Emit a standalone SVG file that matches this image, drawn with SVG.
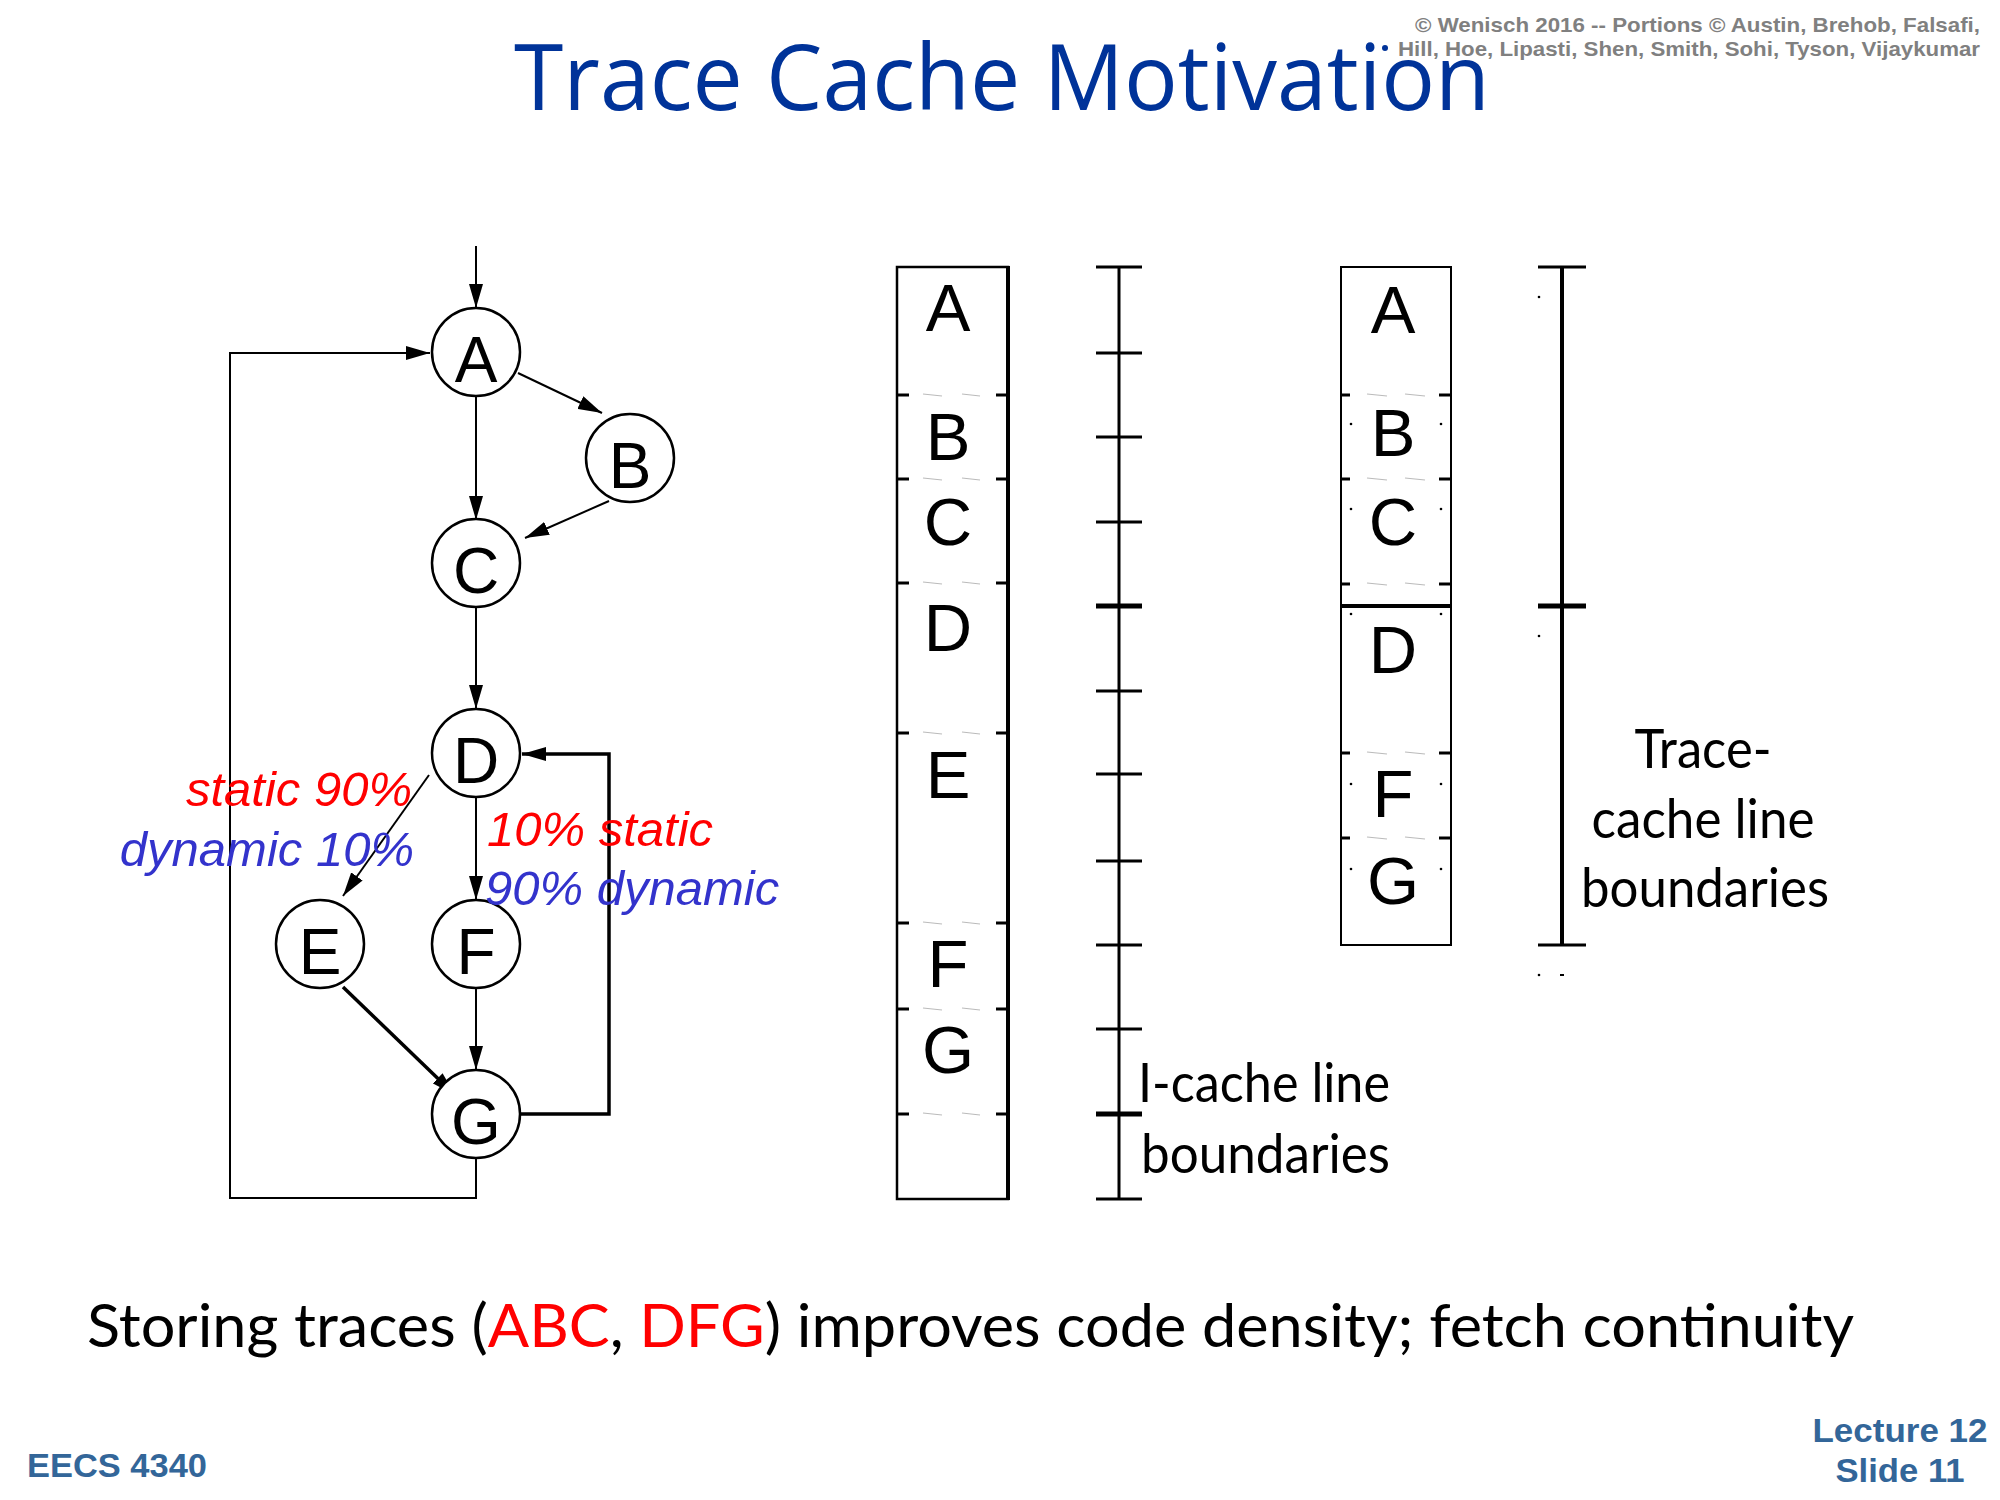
<svg xmlns="http://www.w3.org/2000/svg" width="2000" height="1500" viewBox="0 0 2000 1500">
<defs>
<marker id="ah" viewBox="0 0 24 14" refX="24" refY="7" markerWidth="24" markerHeight="14" markerUnits="userSpaceOnUse" orient="auto"><path d="M0,0 L24,7 L0,14 z" fill="#000"/></marker>
<style>
.node circle{fill:#fff;stroke:#000;stroke-width:2.5}
.nl{font-family:"Liberation Sans",Arial,sans-serif;font-size:64px;text-anchor:middle;fill:#000}
.edge{fill:none;stroke:#000;stroke-width:2;marker-end:url(#ah)}
.thick{stroke-width:3.5}
.cl{font-family:"Liberation Sans",Arial,sans-serif;font-size:67px;text-anchor:middle;fill:#000}
.lbl{font-family:"Liberation Sans",Arial,sans-serif;font-size:49px;font-style:italic}
.red{fill:#ff0000}
.blue{fill:#3333cc}
.cal{font-family:Lato,"Open Sans",sans-serif;font-size:54px;fill:#000}
.stub{stroke:#000;stroke-width:3}
.faint{stroke:#bbb;stroke-width:1.2}
.dot{fill:#000}
.foot{font-family:"Liberation Sans",Arial,sans-serif;font-weight:bold;fill:#336699}
</style>
</defs>
<rect width="2000" height="1500" fill="#fff"/>

<!-- title & header -->
<text x="514" y="110" font-family="'Open Sans',Lato,sans-serif" font-size="92" fill="#003399" textLength="976" lengthAdjust="spacingAndGlyphs">Trace Cache Motivation</text>
<g font-family="'Liberation Sans Narrow','Liberation Sans',Arial,sans-serif" font-weight="bold" font-size="21" fill="#808080">
<text x="1415" y="32" textLength="565" lengthAdjust="spacingAndGlyphs">© Wenisch 2016 -- Portions © Austin, Brehob, Falsafi,</text>
<text x="1398" y="56" textLength="582" lengthAdjust="spacingAndGlyphs">Hill, Hoe, Lipasti, Shen, Smith, Sohi, Tyson, Vijaykumar</text>
</g>
<circle cx="1385" cy="48" r="3" fill="#003399"/>

<!-- connectors -->
<g id="connectors">
<line class="edge" x1="476" y1="246" x2="476" y2="308"/>
<line class="edge" x1="518" y1="373" x2="602" y2="413"/>
<line class="edge" x1="609" y1="501" x2="525" y2="538"/>
<line class="edge" x1="476" y1="396" x2="476" y2="520"/>
<line class="edge" x1="476" y1="607" x2="476" y2="709"/>
<line class="edge" x1="429" y1="775" x2="343" y2="896"/>
<line class="edge" x1="476" y1="798" x2="476" y2="900"/>
<line class="edge thick" x1="343" y1="987" x2="455" y2="1095"/>
<line class="edge" x1="476" y1="988" x2="476" y2="1070"/>
<polyline class="edge thick" points="520,1114 609,1114 609,754 522,754"/>
<polyline class="edge" points="476,1158 476,1198 230,1198 230,353 430,353"/>
</g>

<!-- nodes -->
<g id="node-A" class="node"><circle cx="476" cy="352" r="44"/><text class="nl" x="476" y="382">A</text></g>
<g id="node-B" class="node"><circle cx="630" cy="458" r="44"/><text class="nl" x="630" y="488">B</text></g>
<g id="node-C" class="node"><circle cx="476" cy="563" r="44"/><text class="nl" x="476" y="593">C</text></g>
<g id="node-D" class="node"><circle cx="476" cy="753" r="44"/><text class="nl" x="476" y="783">D</text></g>
<g id="node-E" class="node"><circle cx="320" cy="944" r="44"/><text class="nl" x="320" y="974">E</text></g>
<g id="node-F" class="node"><circle cx="476" cy="944" r="44"/><text class="nl" x="476" y="974">F</text></g>
<g id="node-G" class="node"><circle cx="476" cy="1114" r="44"/><text class="nl" x="476" y="1144">G</text></g>

<!-- edge labels -->
<g id="edge-labels">
<text class="lbl red" x="412" y="806" text-anchor="end">static 90%</text>
<text class="lbl blue" x="414" y="866" text-anchor="end">dynamic 10%</text>
<text class="lbl red" x="487" y="846">10% static</text>
<text class="lbl blue" x="485" y="905">90% dynamic</text>
</g>

<!-- I-cache column -->
<g id="icache">
<rect x="897" y="267" width="111" height="932" fill="none" stroke="#000" stroke-width="2.5"/>
<line x1="1008" y1="266" x2="1008" y2="1200" stroke="#000" stroke-width="4"/>
<g>
<line class="stub" x1="897" y1="395" x2="909" y2="395"/><line class="stub" x1="996" y1="395" x2="1008" y2="395"/>
<line class="faint" x1="923" y1="394" x2="942" y2="396"/><line class="faint" x1="962" y1="394" x2="980" y2="396"/>
<line class="stub" x1="897" y1="479" x2="909" y2="479"/><line class="stub" x1="996" y1="479" x2="1008" y2="479"/>
<line class="faint" x1="923" y1="478" x2="942" y2="480"/><line class="faint" x1="962" y1="478" x2="980" y2="480"/>
<line class="stub" x1="897" y1="583" x2="909" y2="583"/><line class="stub" x1="996" y1="583" x2="1008" y2="583"/>
<line class="faint" x1="923" y1="582" x2="942" y2="584"/><line class="faint" x1="962" y1="582" x2="980" y2="584"/>
<line class="stub" x1="897" y1="733" x2="909" y2="733"/><line class="stub" x1="996" y1="733" x2="1008" y2="733"/>
<line class="faint" x1="923" y1="732" x2="942" y2="734"/><line class="faint" x1="962" y1="732" x2="980" y2="734"/>
<line class="stub" x1="897" y1="923" x2="909" y2="923"/><line class="stub" x1="996" y1="923" x2="1008" y2="923"/>
<line class="faint" x1="923" y1="922" x2="942" y2="924"/><line class="faint" x1="962" y1="922" x2="980" y2="924"/>
<line class="stub" x1="897" y1="1009" x2="909" y2="1009"/><line class="stub" x1="996" y1="1009" x2="1008" y2="1009"/>
<line class="faint" x1="923" y1="1008" x2="942" y2="1010"/><line class="faint" x1="962" y1="1008" x2="980" y2="1010"/>
<line class="stub" x1="897" y1="1114" x2="909" y2="1114"/><line class="stub" x1="996" y1="1114" x2="1008" y2="1114"/>
<line class="faint" x1="923" y1="1113" x2="942" y2="1115"/><line class="faint" x1="962" y1="1113" x2="980" y2="1115"/>
</g>
<text class="cl" x="948" y="331">A</text>
<text class="cl" x="948" y="460">B</text>
<text class="cl" x="948" y="545">C</text>
<text class="cl" x="948" y="651">D</text>
<text class="cl" x="948" y="798">E</text>
<text class="cl" x="948" y="987">F</text>
<text class="cl" x="948" y="1073">G</text>
</g>

<!-- I-cache axis -->
<g id="icache-axis" stroke="#000" stroke-width="3">
<line x1="1119" y1="267" x2="1119" y2="1199"/>
<line x1="1096" y1="267" x2="1142" y2="267"/>
<line x1="1096" y1="353" x2="1142" y2="353"/>
<line x1="1096" y1="437" x2="1142" y2="437"/>
<line x1="1096" y1="522" x2="1142" y2="522"/>
<line x1="1096" y1="606" x2="1142" y2="606" stroke-width="5"/>
<line x1="1096" y1="691" x2="1142" y2="691"/>
<line x1="1096" y1="774" x2="1142" y2="774"/>
<line x1="1096" y1="861" x2="1142" y2="861"/>
<line x1="1096" y1="945" x2="1142" y2="945"/>
<line x1="1096" y1="1029" x2="1142" y2="1029"/>
<line x1="1096" y1="1114" x2="1142" y2="1114" stroke-width="5"/>
<line x1="1096" y1="1199" x2="1142" y2="1199"/>
</g>
<text class="cal" x="1138" y="1102" textLength="252" lengthAdjust="spacingAndGlyphs">I-cache line</text>
<text class="cal" x="1141" y="1173" textLength="249" lengthAdjust="spacingAndGlyphs">boundaries</text>

<!-- Trace cache column -->
<g id="tracecache">
<rect x="1341" y="267" width="110" height="678" fill="none" stroke="#000" stroke-width="2"/>
<line x1="1340" y1="606" x2="1452" y2="606" stroke="#000" stroke-width="4"/>
<g>
<line class="stub" x1="1341" y1="395" x2="1350" y2="395"/><line class="stub" x1="1439" y1="395" x2="1451" y2="395"/>
<line class="faint" x1="1367" y1="394" x2="1387" y2="396"/><line class="faint" x1="1405" y1="394" x2="1425" y2="396"/>
<line class="stub" x1="1341" y1="479" x2="1350" y2="479"/><line class="stub" x1="1439" y1="479" x2="1451" y2="479"/>
<line class="faint" x1="1367" y1="478" x2="1387" y2="480"/><line class="faint" x1="1405" y1="478" x2="1425" y2="480"/>
<line class="stub" x1="1341" y1="584" x2="1350" y2="584"/><line class="stub" x1="1439" y1="584" x2="1451" y2="584"/>
<line class="faint" x1="1367" y1="583" x2="1387" y2="585"/><line class="faint" x1="1405" y1="583" x2="1425" y2="585"/>
<line class="stub" x1="1341" y1="753" x2="1350" y2="753"/><line class="stub" x1="1439" y1="753" x2="1451" y2="753"/>
<line class="faint" x1="1367" y1="752" x2="1387" y2="754"/><line class="faint" x1="1405" y1="752" x2="1425" y2="754"/>
<line class="stub" x1="1341" y1="838" x2="1350" y2="838"/><line class="stub" x1="1439" y1="838" x2="1451" y2="838"/>
<line class="faint" x1="1367" y1="837" x2="1387" y2="839"/><line class="faint" x1="1405" y1="837" x2="1425" y2="839"/>
</g>
<g class="dot">
<circle cx="1351" cy="424" r="1.3"/><circle cx="1441" cy="424" r="1.3"/>
<circle cx="1351" cy="509" r="1.3"/><circle cx="1441" cy="509" r="1.3"/>
<circle cx="1351" cy="614" r="1.3"/><circle cx="1441" cy="614" r="1.3"/>
<circle cx="1351" cy="784" r="1.3"/><circle cx="1441" cy="784" r="1.3"/>
<circle cx="1351" cy="869" r="1.3"/><circle cx="1441" cy="869" r="1.3"/>
</g>
<text class="cl" x="1393" y="333">A</text>
<text class="cl" x="1393" y="456">B</text>
<text class="cl" x="1393" y="545">C</text>
<text class="cl" x="1393" y="673">D</text>
<text class="cl" x="1393" y="817">F</text>
<text class="cl" x="1393" y="904">G</text>
</g>

<!-- Trace axis -->
<g id="trace-axis" stroke="#000" stroke-width="3">
<line x1="1562" y1="267" x2="1562" y2="945" stroke-width="4"/>
<line x1="1538" y1="267" x2="1586" y2="267"/>
<line x1="1538" y1="606" x2="1586" y2="606" stroke-width="5"/>
<line x1="1538" y1="945" x2="1586" y2="945"/>
</g>
<g class="dot">
<circle cx="1539" cy="297" r="1.3"/><circle cx="1539" cy="636" r="1.3"/><circle cx="1539" cy="975" r="1.3"/>
<rect x="1560" y="974" width="4" height="2"/>
</g>
<text class="cal" x="1703" y="768" text-anchor="middle" textLength="137" lengthAdjust="spacingAndGlyphs">Trace-</text>
<text class="cal" x="1703" y="838" text-anchor="middle" textLength="223" lengthAdjust="spacingAndGlyphs">cache line</text>
<text class="cal" x="1705" y="907" text-anchor="middle" textLength="248" lengthAdjust="spacingAndGlyphs">boundaries</text>

<!-- bottom -->
<text x="87" y="1347" font-family="Lato,'Open Sans',sans-serif" font-size="60" fill="#000" textLength="1767" lengthAdjust="spacingAndGlyphs">Storing traces (<tspan fill="#ff0000">ABC</tspan>, <tspan fill="#ff0000">DFG</tspan>) improves code density; fetch continuity</text>
<text class="foot" x="27" y="1477" font-size="34" textLength="180" lengthAdjust="spacingAndGlyphs">EECS 4340</text>
<text class="foot" x="1900" y="1442" font-size="33" text-anchor="middle" textLength="175" lengthAdjust="spacingAndGlyphs">Lecture 12</text>
<text class="foot" x="1900" y="1482" font-size="33" text-anchor="middle" textLength="129" lengthAdjust="spacingAndGlyphs">Slide 11</text>
</svg>
